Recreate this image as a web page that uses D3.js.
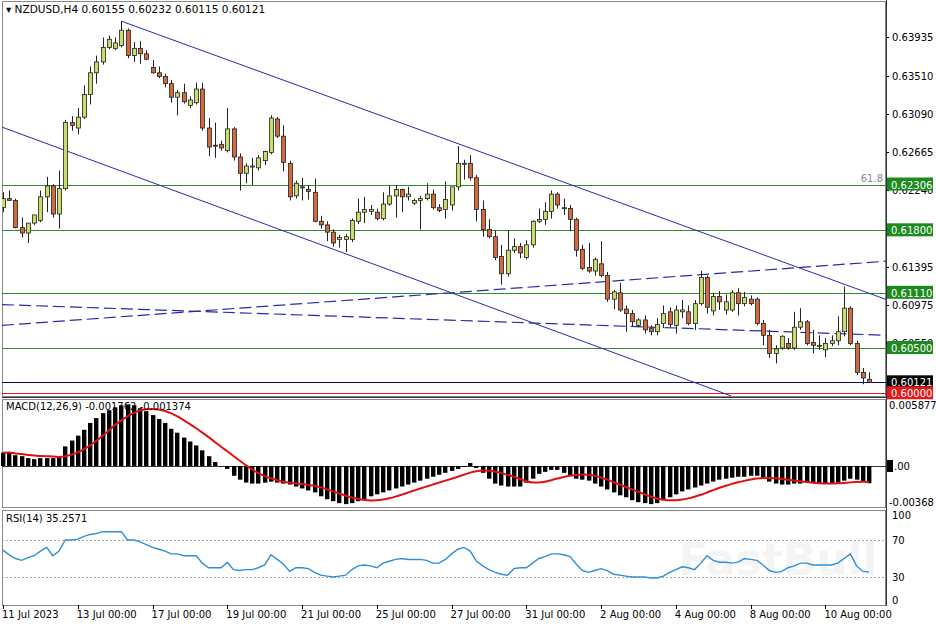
<!DOCTYPE html>
<html><head><meta charset="utf-8">
<script src="https://cdn.jsdelivr.net/npm/d3@7/dist/d3.min.js"></script>
<style>body{margin:0;background:#fff}svg{display:block}text{font-family:"DejaVu Sans",Verdana,sans-serif}</style>
</head><body><svg id="c" width="936" height="624"></svg>
<script>
const openP=[0.6205,0.6215,0.6213,0.6183,0.6177,0.6188,0.6191,0.6217,0.6229,0.6198,0.6226,0.6299,0.6293,0.6305,0.6330,0.6354,0.6366,0.6382,0.6381,0.6384,0.6401,0.6373,0.6381,0.6375,0.6360,0.6354,0.6350,0.6342,0.6327,0.6332,0.6318,0.6321,0.6336,0.6293,0.6274,0.6275,0.6268,0.6292,0.6261,0.6243,0.6251,0.6249,0.6257,0.6266,0.6303,0.6284,0.6254,0.6218,0.6228,0.6225,0.6222,0.6190,0.6186,0.6178,0.6170,0.6170,0.6170,0.6190,0.6200,0.6201,0.6200,0.6193,0.6209,0.6218,0.6225,0.6217,0.6210,0.6213,0.6215,0.6220,0.6205,0.6203,0.6208,0.6228,0.6254,0.6254,0.6238,0.6203,0.6181,0.6173,0.6151,0.6132,0.6158,0.6162,0.6150,0.6164,0.6190,0.6192,0.6201,0.6220,0.6205,0.6204,0.6192,0.6159,0.6139,0.6135,0.6143,0.6130,0.6104,0.6111,0.6093,0.6088,0.6075,0.6081,0.6072,0.6068,0.6077,0.6090,0.6075,0.6090,0.6090,0.6077,0.6099,0.6128,0.6091,0.6107,0.6092,0.6092,0.6111,0.6099,0.6104,0.6104,0.6077,0.6064,0.6044,0.6050,0.6055,0.6050,0.6073,0.6079,0.6056,0.6053,0.6048,0.6055,0.6058,0.6068,0.6094,0.6055,0.6023,0.60155];
const highP=[0.6222,0.6224,0.6215,0.6194,0.6180,0.6192,0.6224,0.6239,0.6231,0.6246,0.6302,0.6306,0.6315,0.6340,0.6361,0.6373,0.6393,0.6395,0.6393,0.6411,0.6403,0.6388,0.6389,0.6379,0.6368,0.6361,0.6353,0.6346,0.6335,0.6342,0.6328,0.6343,0.6343,0.6304,0.6299,0.6279,0.6315,0.6294,0.6265,0.6254,0.6260,0.6263,0.6268,0.6307,0.6305,0.6296,0.6257,0.6235,0.6238,0.6230,0.6237,0.6196,0.6190,0.6181,0.6175,0.6176,0.6193,0.6215,0.6217,0.6208,0.6204,0.6222,0.6229,0.6230,0.6226,0.6228,0.6215,0.6218,0.6232,0.6225,0.6209,0.6234,0.6213,0.6273,0.6258,0.6263,0.6241,0.6213,0.6192,0.6180,0.6164,0.6180,0.6171,0.6166,0.6169,0.6191,0.6204,0.6211,0.6224,0.6222,0.6215,0.6208,0.6194,0.6164,0.6166,0.6150,0.6168,0.6134,0.6114,0.6122,0.6097,0.6092,0.6083,0.6086,0.6075,0.6083,0.6097,0.6095,0.6097,0.6103,0.6097,0.6103,0.6135,0.6130,0.6111,0.6113,0.6109,0.6114,0.6116,0.6112,0.6108,0.6106,0.6081,0.6070,0.6053,0.6064,0.6061,0.6090,0.6094,0.6081,0.6070,0.6064,0.6061,0.6064,0.6085,0.6118,0.6096,0.6058,0.6028,0.60232];
const lowP=[0.6200,0.6213,0.6182,0.6172,0.6166,0.6186,0.6189,0.6200,0.6194,0.6182,0.6224,0.6290,0.6286,0.6303,0.6319,0.6342,0.6363,0.6380,0.6379,0.6382,0.6370,0.6366,0.6364,0.6368,0.6353,0.6348,0.6338,0.6321,0.6307,0.6320,0.6315,0.6319,0.6290,0.6262,0.6260,0.6268,0.6266,0.6257,0.6224,0.6232,0.6230,0.6246,0.6252,0.6264,0.6282,0.6245,0.6213,0.6215,0.6213,0.6214,0.6189,0.6182,0.6168,0.6162,0.6161,0.6156,0.6167,0.6187,0.6188,0.6197,0.6191,0.6191,0.6207,0.6194,0.6200,0.6213,0.6208,0.6181,0.6213,0.6203,0.6200,0.6193,0.6202,0.6224,0.6236,0.6235,0.6190,0.6173,0.6171,0.6147,0.6120,0.6129,0.6155,0.6149,0.6148,0.6161,0.6188,0.6186,0.6193,0.6204,0.6197,0.6179,0.6151,0.6136,0.6133,0.6130,0.6128,0.6101,0.6093,0.6090,0.6068,0.6074,0.6073,0.6066,0.6064,0.6064,0.6072,0.6073,0.6066,0.6083,0.6075,0.6070,0.6097,0.6088,0.6086,0.6092,0.6087,0.6090,0.6086,0.6096,0.6097,0.6075,0.6053,0.6039,0.6033,0.6048,0.6048,0.6048,0.6070,0.6053,0.6044,0.6048,0.6040,0.6052,0.6053,0.6063,0.6053,0.6020,0.6010,0.60115];
const closeP=[0.6215,0.6213,0.6183,0.6177,0.6188,0.6197,0.6217,0.6229,0.6198,0.6226,0.6299,0.6296,0.6305,0.6330,0.6354,0.6366,0.6382,0.6391,0.6387,0.6401,0.6373,0.6381,0.6375,0.6369,0.6354,0.6350,0.6342,0.6327,0.6332,0.6322,0.6324,0.6336,0.6293,0.6272,0.6273,0.6271,0.6292,0.6261,0.6243,0.6251,0.6251,0.6260,0.6267,0.6304,0.6284,0.6255,0.6217,0.6232,0.6228,0.6223,0.6190,0.6186,0.6178,0.6166,0.6172,0.6173,0.6191,0.6200,0.6203,0.6203,0.6193,0.6209,0.6218,0.6225,0.6217,0.6220,0.6213,0.6215,0.6220,0.6205,0.6202,0.6214,0.6228,0.6254,0.6254,0.6238,0.6203,0.6181,0.6173,0.6150,0.6132,0.6158,0.6162,0.6155,0.6164,0.6190,0.6192,0.6201,0.6220,0.6208,0.6205,0.6192,0.6158,0.6138,0.6135,0.6148,0.6130,0.6104,0.6112,0.6092,0.6088,0.6079,0.6081,0.6070,0.6068,0.6076,0.6088,0.6076,0.6092,0.6092,0.6077,0.6099,0.6128,0.6095,0.6107,0.6101,0.6101,0.6111,0.6099,0.6106,0.6099,0.6077,0.6064,0.6044,0.6049,0.6063,0.6050,0.6073,0.6079,0.6055,0.6053,0.6053,0.6055,0.6058,0.6068,0.6094,0.6055,0.6023,0.6017,0.60121];
const macdHist=[1.36,1.4,1.1,1.0,0.8,0.7,0.8,0.8,0.8,0.9,2.0,2.6,3.1,3.7,4.4,4.9,5.4,5.7,6.0,6.2,6.3,6.2,5.9,5.6,5.2,4.8,4.4,3.8,3.4,2.9,2.5,2.1,1.6,1.0,0.4,-0.05,-0.3,-1.0,-1.4,-1.7,-1.8,-1.8,-1.7,-1.6,-1.7,-1.8,-1.9,-2.1,-2.3,-2.5,-2.7,-3.1,-3.4,-3.6,-3.8,-3.9,-3.8,-3.6,-3.4,-3.1,-2.9,-2.7,-2.5,-2.3,-2.1,-1.9,-1.7,-1.5,-1.3,-1.1,-0.9,-0.7,-0.5,-0.3,-0.1,0.3,-0.2,-0.7,-1.3,-1.8,-2.0,-2.1,-2.1,-2.1,-1.7,-1.3,-0.8,-0.6,-0.4,-0.4,-0.7,-1.0,-1.3,-1.4,-1.5,-1.8,-2.1,-2.4,-2.7,-3.0,-3.2,-3.5,-3.7,-3.8,-3.9,-3.8,-3.5,-3.2,-2.9,-2.6,-2.4,-2.2,-2.0,-1.8,-1.6,-1.4,-1.3,-1.2,-1.1,-1.1,-1.0,-1.0,-1.3,-1.6,-1.8,-1.9,-1.9,-1.8,-1.8,-1.7,-1.7,-1.8,-1.8,-1.8,-1.7,-1.5,-1.3,-1.4,-1.6,-1.762];
const rsiVals=[59,54,50,48,51,53,58,62,53,58,70,70,71,74,76,77,79,79,79,79,70,70,68,65,62,60,58,55,55,53,53,53,45,40,40,40,46,38,37,38,38,40,43,54,49,44,36,40,40,39,35,32,31,30,31,32,38,42,43,42,40,45,47,49,50,49,49,49,48,45,45,49,55,60,62,58,47,42,38,35,33,32,39,40,40,45,50,52,55,55,54,52,44,37,35,37,39,37,33,32,31,30,30,30,29,29,31,35,38,41,40,38,45,53,48,46,46,45,46,50,49,48,43,37,35,36,40,42,45,45,43,43,43,43,45,50,55,42,36,35.26];
const priceTicks=[0.63935,0.63510,0.63090,0.62665,0.62240,0.61815,0.61395,0.60975,0.60550];
const levels=[0.62306,0.61800,0.61110,0.60500];
const dateLabels=["11 Jul 2023","13 Jul 00:00","17 Jul 00:00","19 Jul 00:00","21 Jul 00:00","25 Jul 00:00","27 Jul 00:00","31 Jul 00:00","2 Aug 00:00","4 Aug 00:00","8 Aug 00:00","10 Aug 00:00"];
const dateBars=[0,12,24,36,48,60,72,84,96,108,120,132];
const upperChannel=[[19,0.6411],[142,0.6103]];
const lowerChannel=[[-0.16,0.6294],[116.9,0.5997]];
const dashA=[[-0.16,0.6075],[142,0.6146]];
const dashB=[[-0.16,0.6098],[142,0.6064]];

const n=closeP.length;
const svg=d3.select("#c");
const L=2,R=886;
const x=d3.scaleLinear().domain([0,139]).range([3,869]);
const y=d3.scaleLinear().domain([0.59970,0.64344]).range([396,0]);
const ym=d3.scaleLinear().domain([-4.4,6.95]).range([509,398]);
const yr=d3.scaleLinear().domain([0,100]).range([604.75,512.25]);

const defs=svg.append("defs");
defs.append("clipPath").attr("id","cm").append("rect").attr("x",L).attr("y",2).attr("width",R-L).attr("height",394);
defs.append("clipPath").attr("id","cr").append("rect").attr("x",L).attr("y",511).attr("width",R-L).attr("height",94);

svg.append("rect").attr("x",L+0.5).attr("y",1.5).attr("width",R-L-1).attr("height",395).attr("fill","none").attr("stroke","#888");
svg.append("line").attr("x1",L).attr("x2",R).attr("y1",397.5).attr("y2",397.5).attr("stroke","#333");
svg.append("rect").attr("x",L+0.5).attr("y",399.5).attr("width",R-L-1).attr("height",108).attr("fill","none").attr("stroke","#888");
svg.append("rect").attr("x",L+0.5).attr("y",510.5).attr("width",R-L-1).attr("height",95).attr("fill","none").attr("stroke","#888");
svg.append("line").attr("x1",R+0.5).attr("x2",R+0.5).attr("y1",0).attr("y2",606).attr("stroke","#333");

svg.append("text").attr("x",778).attr("y",575).attr("text-anchor","middle").attr("font-size",44).attr("font-weight","bold").attr("fill","#000").attr("opacity",0.04).text("FastBull");

const gm=svg.append("g").attr("clip-path","url(#cm)");
gm.selectAll(".lv").data(levels).enter().append("line").attr("x1",L).attr("x2",R).attr("y1",d=>Math.round(y(d))+0.5).attr("y2",d=>Math.round(y(d))+0.5).attr("stroke","#2f8f2f").attr("stroke-width",1);
gm.append("line").attr("x1",L).attr("x2",R).attr("y1",Math.round(y(0.60121))+0.5).attr("y2",Math.round(y(0.60121))+0.5).attr("stroke","#10105a");
gm.append("line").attr("x1",L).attr("x2",R).attr("y1",Math.round(y(0.60000))+0.5).attr("y2",Math.round(y(0.60000))+0.5).attr("stroke","#e02020");
const ln=d3.line().x(d=>x(d[0])).y(d=>y(d[1]));
[upperChannel,lowerChannel].forEach(p=>gm.append("path").attr("d",ln(p)).attr("fill","none").attr("stroke","#2a2aa8").attr("stroke-width",1));
[dashA,dashB].forEach(p=>gm.append("path").attr("d",ln(p)).attr("fill","none").attr("stroke","#2a2aa8").attr("stroke-width",1.2).attr("stroke-dasharray","12,5"));
const idx=d3.range(n);
gm.selectAll(".w").data(idx).enter().append("line").attr("x1",i=>Math.round(x(i))+0.5).attr("x2",i=>Math.round(x(i))+0.5)
 .attr("y1",i=>y(highP[i])).attr("y2",i=>y(lowP[i])).attr("stroke","#222");
gm.selectAll(".b").data(idx).enter().append("rect").attr("x",i=>Math.round(x(i))-1.5).attr("width",4)
 .attr("y",i=>y(Math.max(openP[i],closeP[i]))).attr("height",i=>Math.max(1,Math.abs(y(openP[i])-y(closeP[i]))))
 .attr("fill",i=>closeP[i]>=openP[i]?"#c9db6b":"#d2693c").attr("stroke","#222").attr("stroke-width",0.8);

svg.selectAll(".pt").data(priceTicks).enter().append("text").attr("x",892).attr("y",d=>y(d)+4).attr("font-size",10).attr("fill","#000").text(d=>d.toFixed(5));
svg.selectAll(".ptk").data(priceTicks).enter().append("line").attr("x1",R).attr("x2",R+3).attr("y1",d=>Math.round(y(d))+0.5).attr("y2",d=>Math.round(y(d))+0.5).attr("stroke","#000");
svg.append("text").attr("x",883).attr("y",y(0.62306)-3).attr("text-anchor","end").attr("font-size",10).attr("fill","#8888a0").text("61.8");
function box(v,col){const yy=y(v);svg.append("rect").attr("x",887).attr("y",yy-7).attr("width",46).attr("height",13).attr("fill",col);
 svg.append("text").attr("x",891).attr("y",yy+4).attr("font-size",10).attr("fill","#fff").text(v.toFixed(5));}
levels.forEach(v=>box(v,"#1d8a1d"));
box(0.60121,"#000");box(0.60000,"#e81818");

svg.append("text").attr("x",6).attr("y",13).attr("font-size",10.5).attr("fill","#000").text("▾ NZDUSD,H4  0.60155 0.60232 0.60115 0.60121");

svg.append("line").attr("x1",L).attr("x2",R).attr("y1",Math.round(ym(0))+0.5).attr("y2",Math.round(ym(0))+0.5).attr("stroke","#000").attr("stroke-width",0.8);
svg.selectAll(".mh").data(idx).enter().append("rect").attr("x",i=>Math.round(x(i))-2).attr("width",4.4)
 .attr("y",i=>Math.min(ym(macdHist[i]),ym(0))).attr("height",i=>Math.abs(ym(macdHist[i])-ym(0))).attr("fill","#000");
const signal=idx.map(i=>{const s=macdHist.slice(Math.max(0,i-8),i+1);return d3.mean(s);});
svg.append("path").attr("d",d3.line().curve(d3.curveMonotoneX).x((d,i)=>x(i)).y(d=>ym(d))(signal)).attr("fill","none").attr("stroke","#e01010").attr("stroke-width",2);
svg.append("text").attr("x",6).attr("y",410).attr("font-size",10).attr("fill","#000").text("MACD(12,26,9) -0.001762 -0.001374");
svg.append("text").attr("x",889).attr("y",409).attr("font-size",10).text("0.005877");
svg.append("rect").attr("x",887).attr("y",ym(0)-6).attr("width",6).attr("height",12).attr("fill","#000");
svg.append("text").attr("x",894).attr("y",ym(0)+4).attr("font-size",10).text(".00");
svg.append("text").attr("x",889).attr("y",ym(-3.68)+4).attr("font-size",10).text("-0.00368");

[70,30].forEach(v=>svg.append("line").attr("x1",L).attr("x2",R).attr("y1",Math.round(yr(v))+0.5).attr("y2",Math.round(yr(v))+0.5).attr("stroke","#aaa").attr("stroke-dasharray","2,2"));
svg.append("g").attr("clip-path","url(#cr)").append("path").attr("d",d3.line().x((d,i)=>x(i)).y(d=>yr(d))(rsiVals)).attr("fill","none").attr("stroke","#2f8fd8").attr("stroke-width",1.4);
svg.append("text").attr("x",6).attr("y",522).attr("font-size",10).text("RSI(14) 35.2571");
[100,70,30,0].forEach(v=>svg.append("text").attr("x",892).attr("y",(v===100?yr(100)+7:v===0?yr(0)-1:yr(v)+4)).attr("font-size",10).text(v));

svg.selectAll(".xt").data(dateBars).enter().append("line").attr("x1",i=>Math.round(x(i))+0.5).attr("x2",i=>Math.round(x(i))+0.5).attr("y1",605).attr("y2",609).attr("stroke","#000");
svg.selectAll(".xl").data(dateBars).enter().append("text").attr("x",i=>x(i)-1).attr("y",618).attr("font-size",10).text((d,k)=>dateLabels[k]);
</script></body></html>
